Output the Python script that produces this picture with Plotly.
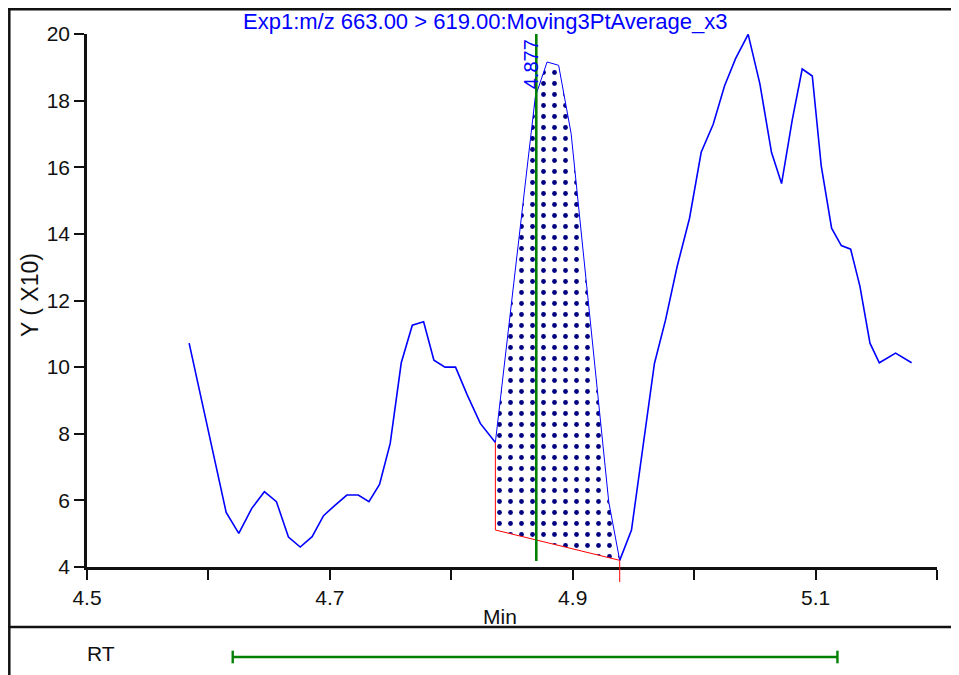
import plotly.graph_objects as go

# ---------------- data ----------------
time_min = [4.5841, 4.6146, 4.6250, 4.6357, 4.6461, 4.6560, 4.6659, 4.6756, 4.6854, 4.6948,
            4.7044, 4.7140, 4.7234, 4.7322, 4.7409, 4.7497, 4.7588, 4.7679, 4.7772, 4.7857,
            4.7948, 4.8035, 4.8132, 4.8239, 4.8363,
            4.8692, 4.8789, 4.8884, 4.8987, 4.9297, 4.9387,
            4.9484, 4.9673, 4.9764, 4.9860, 4.9962, 5.0058, 5.0157, 5.0250, 5.0341, 5.0445,
            5.0541, 5.0637, 5.0720, 5.0808, 5.0890, 5.0973, 5.1047, 5.1132, 5.1212, 5.1289,
            5.1365, 5.1448, 5.1525, 5.1659, 5.1791]
intensity_x10 = [10.72, 5.64, 5.01, 5.76, 6.26, 5.96, 4.90, 4.60, 4.91, 5.54,
                 5.86, 6.16, 6.16, 5.96, 6.48, 7.71, 10.13, 11.26, 11.36, 10.21,
                 10.00, 10.00, 9.16, 8.31, 7.74,
                 18.11, 19.16, 19.06, 17.01, 5.95, 4.20,
                 5.11, 10.11, 11.41, 13.02, 14.47, 16.45, 17.29, 18.44, 19.26, 19.99,
                 18.51, 16.45, 15.51, 17.42, 18.95, 18.74, 16.03, 14.17, 13.65, 13.54,
                 12.43, 10.72, 10.13, 10.42, 10.13]

peak_start_idx = 24
peak_end_idx = 30
baseline_start = 5.11
baseline_end = 4.20
apex_rt = 4.870
apex_label = "4.877"
apex_line_y = [4.18, 20.0]
rt_window = [4.620, 5.118]

x_range = [4.5, 5.2]
y_range = [4, 20]
x_tickvals = [4.5, 4.6, 4.7, 4.8, 4.9, 5.0, 5.1, 5.2]
x_ticktext = ["4.5", "", "4.7", "", "4.9", "", "5.1", ""]
y_tickvals = [4, 6, 8, 10, 12, 14, 16, 18, 20]

title_text = "Exp1:m/z 663.00 > 619.00:Moving3PtAverage_x3"

# ---------------- figure ----------------
W, H = 959, 675
OFF = 8  # page margin of the browser


def xp(px):
    return (px - OFF) / W


def yp(py):
    return 1 - (py - OFF) / H


FONT = "Liberation Sans, Arial, sans-serif"
BLUE = "#0000FF"
GREEN = "#008000"
RED = "#FF0000"
INK = "#111111"

Y_TOP_PX, Y_BOT_PX = 34, 567

s, e = peak_start_idx, peak_end_idx
fig = go.Figure()

# dotted peak area
fig.add_trace(go.Scatter(
    x=time_min[s:e + 1] + [time_min[e], time_min[s]],
    y=intensity_x10[s:e + 1] + [baseline_end, baseline_start],
    mode="lines", line=dict(width=0), fill="toself", fillcolor="white",
    fillpattern=dict(shape=".", fgcolor="#000080", bgcolor="white", size=11, solidity=0.15),
    hoverinfo="skip"))

# chromatogram
fig.add_trace(go.Scatter(x=time_min[:s + 1], y=intensity_x10[:s + 1], mode="lines",
                         line=dict(color=BLUE, width=1.6)))
fig.add_trace(go.Scatter(x=time_min[s:e + 1], y=intensity_x10[s:e + 1], mode="lines",
                         line=dict(color=BLUE, width=1)))
fig.add_trace(go.Scatter(x=time_min[e:], y=intensity_x10[e:], mode="lines",
                         line=dict(color=BLUE, width=1.6)))

# baseline (red)
fig.add_trace(go.Scatter(x=[time_min[s], time_min[s], time_min[e]],
                         y=[intensity_x10[s], baseline_start, baseline_end],
                         mode="lines", line=dict(color=RED, width=1)))
# peak end marker: from the baseline end down through the time axis
fig.add_shape(type="line", xref="x", yref="y domain",
              x0=time_min[e], x1=time_min[e],
              y0=(baseline_end - y_range[0]) / (y_range[1] - y_range[0]),
              y1=-15 / (Y_BOT_PX - Y_TOP_PX),
              line=dict(color=RED, width=1))

# apex line
fig.add_trace(go.Scatter(x=[apex_rt, apex_rt], y=apex_line_y, mode="lines",
                         line=dict(color=GREEN, width=2.6)))

# RT window (bottom panel)
fig.add_trace(go.Scatter(x=rt_window, y=[0.375, 0.375], yaxis="y2", mode="lines+markers",
                         cliponaxis=False,
                         line=dict(color=GREEN, width=2.4),
                         marker=dict(symbol="line-ns", size=9, color=GREEN,
                                     line=dict(color=GREEN, width=2.4))))

fig.update_layout(
    template="none",
    width=W, height=H,
    margin=dict(l=0, r=0, t=0, b=0, autoexpand=False),
    paper_bgcolor="white", plot_bgcolor="white",
    showlegend=False,
    font=dict(family=FONT, size=21, color=INK),
    xaxis=dict(domain=[xp(87), xp(937)], range=x_range, anchor="y",
               tickmode="array", tickvals=x_tickvals, ticktext=x_ticktext,
               showgrid=False, zeroline=False, showline=True, linecolor=INK,
               linewidth=2.5, ticks="outside", ticklen=10, tickwidth=2, tickcolor=INK,
               tickfont=dict(size=21, color=INK), automargin=False),
    yaxis=dict(domain=[yp(Y_BOT_PX), yp(Y_TOP_PX)], range=y_range, anchor="x",
               tickmode="array", tickvals=y_tickvals,
               showgrid=False, zeroline=False, showline=True, linecolor=INK,
               linewidth=2.5, ticks="outside", ticklen=10, tickwidth=2, tickcolor=INK,
               tickfont=dict(size=21, color=INK), automargin=False),
    yaxis2=dict(domain=[yp(675), yp(627)], range=[0, 1], anchor="x", visible=False),
)

line_style = dict(color=INK, width=2.5)
fig.add_shape(type="line", xref="paper", yref="paper", x0=0, x1=1, y0=1 - 1.3 / H, y1=1 - 1.3 / H,
              line=line_style)
fig.add_shape(type="line", xref="paper", yref="paper", x0=1.3 / W, x1=1.3 / W, y0=0, y1=1,
              line=line_style)
fig.add_shape(type="line", xref="paper", yref="paper", x0=0, x1=1, y0=yp(627), y1=yp(627),
              line=line_style)

fig.add_annotation(text=title_text, xref="paper", yref="paper", x=xp(485), y=yp(21),
                   xanchor="center", yanchor="middle", showarrow=False,
                   font=dict(color=BLUE, size=22, family=FONT))
fig.add_annotation(text="Y ( X10)", xref="paper", yref="paper", x=xp(30), y=yp(295),
                   xanchor="center", yanchor="middle", textangle=-90, showarrow=False,
                   font=dict(size=23, family=FONT, color=INK))
fig.add_annotation(text="Min", xref="paper", yref="paper", x=xp(500), y=yp(616),
                   xanchor="center", yanchor="middle", showarrow=False,
                   font=dict(size=21, family=FONT, color=INK))
fig.add_annotation(text="RT", xref="paper", yref="paper", x=xp(101), y=yp(653),
                   xanchor="center", yanchor="middle", showarrow=False,
                   font=dict(size=21, family=FONT, color=INK))
fig.add_annotation(text=apex_label, xref="x", yref="y", x=apex_rt, y=20, xshift=-5, yshift=-3,
                   xanchor="center", yanchor="top", textangle=-90, showarrow=False,
                   font=dict(color=BLUE, size=20, family=FONT))

fig.write_html("out.html")
